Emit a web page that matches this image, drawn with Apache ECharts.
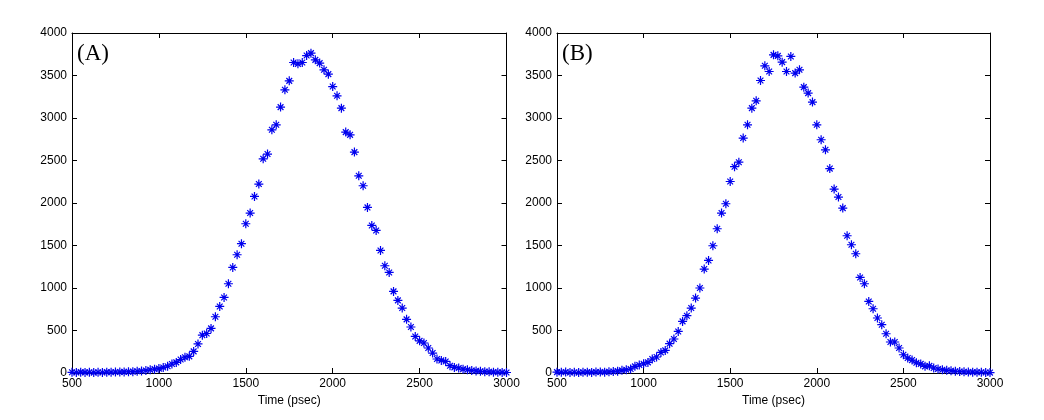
<!DOCTYPE html>
<html>
<head>
<meta charset="utf-8">
<script src="https://cdn.jsdelivr.net/npm/echarts@6/dist/echarts.min.js"></script>
<style>
html,body{margin:0;padding:0;background:#fff;}
#chart{width:1044px;height:420px;}
</style>
</head>
<body>
<div id="chart"></div>
<script>
// Time axis (psec)
const times = [];
for (let t = 500; t <= 3000; t += 25) times.push(t);

// Panel (A) counts
const countsA = [8,6,10,7,9,5,8,6,10,9,12,11,13,15,16,20,24,30,38,45,
  52,65,80,106,125,158,186,196,254,342,445,465,525,662,783,889,1050,1242,1391,1521,
  1756,1882,2077,2223,2520,2576,2861,2920,3128,3332,3437,3653,3637,3653,3735,3763,3684,3646,3567,3516,
  3370,3261,3116,2834,2802,2599,2320,2203,1948,1736,1677,1442,1262,1183,960,854,764,631,541,430,
  378,353,294,235,165,148,136,86,66,59,45,38,30,25,20,16,14,10,9,7,6];

// Panel (B) counts
const countsB = [10,8,12,6,9,5,8,10,7,11,12,10,14,18,22,31,39,47,78,94,
  109,125,165,188,242,266,345,400,489,607,674,764,882,1000,1223,1324,1497,1697,1882,1991,
  2253,2427,2480,2764,2920,3116,3202,3441,3614,3547,3743,3731,3657,3547,3724,3528,3567,3363,3293,3187,
  2920,2744,2626,2405,2164,2070,1940,1615,1509,1403,1124,1050,842,756,647,568,462,365,365,294,
  215,176,152,120,107,78,84,59,47,39,31,27,20,18,14,12,10,9,8,6,5];

const panelLabels = ['(A)', '(B)'];
const xName = 'Time (psec)';
const xTicks = [500, 3000, 500];   // min, max, interval
const yTicks = [0, 4000, 500];

const chart = echarts.init(document.getElementById('chart'), null, {renderer: 'canvas'});
const FONT = 'Liberation Sans, Arial, sans-serif';
const STAR = 'path://M5,0L5,10M0,5L10,5M1.8,1.8L8.2,8.2M1.8,8.2L8.2,1.8';
const plain = v => String(v);

const grids = [
  {left: 72, right: 537.5, top: 33, bottom: 47},
  {left: 557, right: 54, top: 33, bottom: 47}
];

const xAxes = [], yAxes = [], series = [];
const datasets = [countsA, countsB];
grids.forEach((g, i) => {
  const common = {
    gridIndex: i, min: xTicks[0], max: xTicks[1], interval: xTicks[2], type: 'value',
    axisLine: {show: true, onZero: false, lineStyle: {color: '#000', width: 1}},
    axisTick: {show: true, inside: true, length: 5, lineStyle: {color: '#000'}},
    splitLine: {show: false}
  };
  xAxes.push(Object.assign({}, common, {
    position: 'bottom',
    name: xName, nameLocation: 'middle', nameGap: 21,
    nameTextStyle: {color: '#000', fontFamily: FONT, fontSize: 12},
    axisLabel: {color: '#000', fontFamily: FONT, fontSize: 12, margin: 5, formatter: plain}
  }));
  xAxes.push(Object.assign({}, common, {position: 'top', axisLabel: {show: false}}));
  const ycommon = {
    gridIndex: i, min: yTicks[0], max: yTicks[1], interval: yTicks[2], type: 'value',
    axisLine: {show: true, onZero: false, lineStyle: {color: '#000', width: 1}},
    axisTick: {show: true, inside: true, length: 5, lineStyle: {color: '#000'}},
    splitLine: {show: false}
  };
  yAxes.push(Object.assign({}, ycommon, {
    position: 'left',
    axisLabel: {color: '#000', fontFamily: FONT, fontSize: 12, margin: 5, formatter: plain}
  }));
  yAxes.push(Object.assign({}, ycommon, {position: 'right', axisLabel: {show: false}}));
  series.push({
    type: 'scatter',
    xAxisIndex: i * 2, yAxisIndex: i * 2,
    data: times.map((t, k) => [t, datasets[i][k]]),
    symbol: STAR, symbolSize: 9,
    itemStyle: {color: '#0000ee', borderColor: '#0000ee', borderWidth: 1.2, opacity: 1},
    silent: true, animation: false
  });
});

chart.setOption({
  backgroundColor: '#fff',
  animation: false,
  grid: grids,
  xAxis: xAxes,
  yAxis: yAxes,
  series: series,
  graphic: [
    {type: 'text', left: 77, top: 42, style: {text: panelLabels[0], fontFamily: 'Liberation Serif, Times New Roman, serif', fontSize: 23, fill: '#000'}},
    {type: 'text', left: 562, top: 42, style: {text: panelLabels[1], fontFamily: 'Liberation Serif, Times New Roman, serif', fontSize: 23, fill: '#000'}}
  ]
});
</script>
</body>
</html>
